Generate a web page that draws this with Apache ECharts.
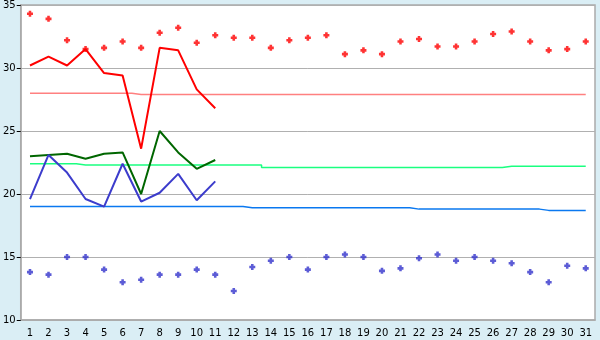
<!DOCTYPE html>
<html><head><meta charset="utf-8">
<script src="https://cdn.jsdelivr.net/npm/echarts@6/dist/echarts.min.js"></script>
<style>html,body{margin:0;padding:0;background:#daeef5}#c{width:600px;height:340px}</style>
</head><body><div id="c"></div>
<script>
const days = ['1','2','3','4','5','6','7','8','9','10','11','12','13','14','15','16','17','18','19','20','21','22','23','24','25','26','27','28','29','30','31'];
const yTicks = {min: 10, max: 35, interval: 5};
const recordMax = [34.3, 33.9, 32.2, 31.5, 31.6, 32.1, 31.6, 32.8, 33.2, 32.0, 32.6, 32.4, 32.4, 31.6, 32.2, 32.4, 32.6, 31.1, 31.4, 31.1, 32.1, 32.3, 31.7, 31.7, 32.1, 32.7, 32.9, 32.1, 31.4, 31.5, 32.1];
const recordMin = [13.8, 13.6, 15.0, 15.0, 14.0, 13.0, 13.2, 13.6, 13.6, 14.0, 13.6, 12.3, 14.2, 14.7, 15.0, 14.0, 15.0, 15.2, 15.0, 13.9, 14.1, 14.9, 15.2, 14.7, 15.0, 14.7, 14.5, 13.8, 13.0, 14.3, 14.1];
const dailyMax = [30.2, 30.9, 30.2, 31.5, 29.6, 29.4, 23.6, 31.6, 31.4, 28.3, 26.8];
const dailyMean = [23.0, 23.1, 23.2, 22.8, 23.2, 23.3, 20.0, 25.0, 23.3, 22.0, 22.7];
const dailyMin = [19.6, 23.1, 21.7, 19.6, 19.0, 22.4, 19.4, 20.1, 21.6, 19.5, 21.0];
const normalMax = [28.0,28.0,28.0,28.0,28.0,28.0,27.9,27.9,27.9,27.9,27.9,27.9,27.9,27.9,27.9,27.9,27.9,27.9,27.9,27.9,27.9,27.9,27.9,27.9,27.9,27.9,27.9,27.9,27.9,27.9,27.9];
const normalMean = [22.4,22.4,22.4,22.3,22.3,22.3,22.3,22.3,22.3,22.3,22.3,22.3,22.3,22.1,22.1,22.1,22.1,22.1,22.1,22.1,22.1,22.1,22.1,22.1,22.1,22.1,22.2,22.2,22.2,22.2,22.2];
const normalMin = [19.0,19.0,19.0,19.0,19.0,19.0,19.0,19.0,19.0,19.0,19.0,19.0,18.9,18.9,18.9,18.9,18.9,18.9,18.9,18.9,18.9,18.8,18.8,18.8,18.8,18.8,18.8,18.8,18.7,18.7,18.7];

const cross = 'path://M2,0H5V2H7V5H5V7H2V5H0V2H2Z';
const chart = echarts.init(document.getElementById('c'), null, {renderer: 'canvas'});
function lineS(data, color, width, step, z) {
  return {type: 'line', data: data, step: step || false, showSymbol: false, symbol: 'none', z: z,
    lineStyle: {color: color, width: width}, itemStyle: {color: color}};
}
chart.setOption({
  animation: false,
  backgroundColor: '#daeef5',
  textStyle: {fontFamily: 'DejaVu Sans'},
  grid: {left: 20, right: 5, top: 5, bottom: 20, show: true, backgroundColor: '#ffffff', borderColor: '#aaaaaa', borderWidth: 1.5},
  xAxis: {type: 'category', data: days, boundaryGap: true,
    axisLine: {lineStyle: {color: '#aaaaaa', width: 1.5}},
    axisTick: {alignWithLabel: true, length: 4, lineStyle: {color: '#000'}},
    axisLabel: {interval: 0, color: '#000', fontSize: 10, margin: 8, fontFamily: 'DejaVu Sans'},
    splitLine: {show: false}},
  yAxis: {type: 'value', min: yTicks.min, max: yTicks.max, interval: yTicks.interval,
    axisLine: {show: true, lineStyle: {color: '#aaaaaa', width: 1.5}},
    axisTick: {show: true, length: 4, lineStyle: {color: '#000'}},
    axisLabel: {color: '#000', fontSize: 10, margin: 5, fontFamily: 'DejaVu Sans'},
    splitLine: {lineStyle: {color: '#b0b0b0', width: 1}}},
  series: [
    lineS(normalMax, '#ff8080', 1.5, 'middle', 1),
    lineS(normalMean, '#1aff80', 1.5, 'middle', 1),
    lineS(normalMin, '#0a78f0', 1.5, 'middle', 1),
    lineS(dailyMax, '#ff0000', 2, false, 3),
    lineS(dailyMean, '#006600', 2, false, 3),
    lineS(dailyMin, '#3c3ccc', 2, false, 3),
    {type: 'scatter', data: recordMax, symbol: cross, symbolSize: 6, z: 4, itemStyle: {color: '#ff0000'}},
    {type: 'scatter', data: recordMin, symbol: cross, symbolSize: 6, z: 4, itemStyle: {color: '#3333cc'}}
  ]
});
</script></body></html>
